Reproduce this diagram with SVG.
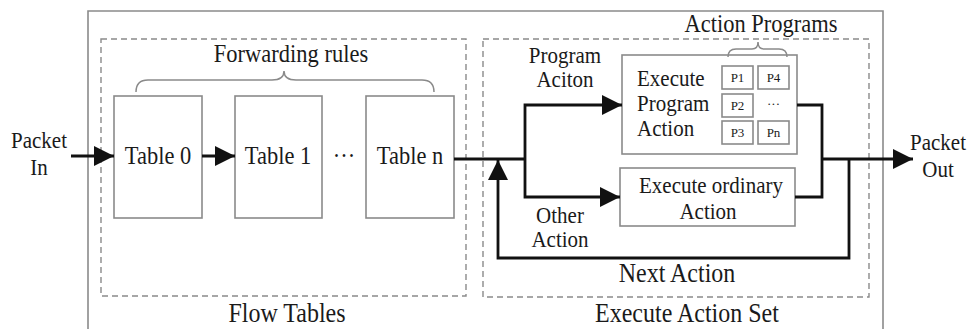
<svg xmlns="http://www.w3.org/2000/svg" width="970" height="329" viewBox="0 0 970 329">
  <style>
    .frame { fill: none; stroke: #8a8a8a; stroke-width: 1.6; }
    .dash { fill: none; stroke: #8a8a8a; stroke-width: 1.4; stroke-dasharray: 6 4; }
    .box { fill: #ffffff; stroke: #8a8a8a; stroke-width: 1.6; }
    .brace { fill: none; stroke: #8a8a8a; stroke-width: 1.5; }
    .wire { fill: none; stroke: #111111; stroke-width: 2.8; }
    text { font-family: 'Liberation Serif', 'DejaVu Serif', serif; fill: #1a1a1a; }
    .lg { font-size: 24px; }
    .md { font-size: 22.5px; }
    .sm { font-size: 21px; }
    .xs { font-size: 13px; }
    .c { text-anchor: middle; }
  </style>
  <defs>
    <marker id="arrow" markerUnits="userSpaceOnUse" markerWidth="22" markerHeight="22" refX="20" refY="10" orient="auto">
      <path d="M0,0 L20,10 L0,20 z" fill="#111111"/>
    </marker>
  </defs>

  <rect width="970" height="329" fill="#ffffff"/>

  <!-- outer switch frame (open at the bottom edge) -->
  <path class="frame" d="M88,335 V11 H883 V335"/>

  <!-- labels use a slightly tall letterform: translate to the baseline, then stretch vertically -->
  <g id="flow-tables">
    <rect class="dash" x="101" y="39" width="365" height="257"/>
    <text class="lg c" transform="translate(287 322) scale(1 1.12)">Flow Tables</text>
    <text class="md c" transform="translate(291 62) scale(1 1.12)">Forwarding rules</text>
    <path class="brace" d="M136,92 Q136,80 148,80 H272 Q284,80 284,71 Q284,80 296,80 H422 Q434,80 434,92"/>
  </g>

  <g id="table-0">
    <rect class="box" x="114" y="96" width="88" height="122"/>
    <text class="md c" transform="translate(158 164) scale(1 1.12)">Table 0</text>
  </g>
  <g id="table-1">
    <rect class="box" x="235" y="96" width="87" height="122"/>
    <text class="md c" transform="translate(278 164) scale(1 1.12)">Table 1</text>
  </g>
  <g id="ellipsis">
    <text class="md c" transform="translate(344 164) scale(1 1.12)">···</text>
  </g>
  <g id="table-n">
    <rect class="box" x="366" y="96" width="88" height="122"/>
    <text class="md c" transform="translate(410 164) scale(1 1.12)">Table n</text>
  </g>

  <g id="action-set">
    <rect class="dash" x="483" y="39" width="386" height="258"/>
    <text class="lg c" transform="translate(687 322) scale(1 1.12)">Execute Action Set</text>
  </g>

  <g id="program-action">
    <rect class="box" x="622" y="55" width="175" height="99"/>
    <text class="sm" transform="translate(637 86) scale(1 1.12)">Execute</text>
    <text class="sm" transform="translate(637 111) scale(1 1.12)">Program</text>
    <text class="sm" transform="translate(637 136) scale(1 1.12)">Action</text>
    <rect class="box" x="722" y="66" width="31" height="23"/>
    <text class="xs c" x="737.5" y="82">P1</text>
    <rect class="box" x="758" y="66" width="31" height="23"/>
    <text class="xs c" x="773.5" y="82">P4</text>
    <rect class="box" x="722" y="94" width="31" height="23"/>
    <text class="xs c" x="737.5" y="110">P2</text>
    <text class="xs c" x="773.5" y="108">···</text>
    <rect class="box" x="722" y="121" width="31" height="23"/>
    <text class="xs c" x="737.5" y="137">P3</text>
    <rect class="box" x="758" y="121" width="31" height="23"/>
    <text class="xs c" x="773.5" y="137">Pn</text>
    <path class="brace" d="M728,57 Q728,49 736,49 H752 Q758,49 758,42 Q758,49 764,49 H779 Q787,49 787,57"/>
    <text class="md c" transform="translate(761 32) scale(1 1.12)">Action Programs</text>
  </g>

  <g id="ordinary-action">
    <rect class="box" x="620" y="168" width="175" height="58"/>
    <text class="sm c" transform="translate(711 193) scale(1 1.05)">Execute ordinary</text>
    <text class="sm c" transform="translate(708 219) scale(1 1.05)">Action</text>
  </g>

  <g id="labels">
    <text class="sm c" transform="translate(39 148) scale(1 1.12)">Packet</text>
    <text class="sm c" transform="translate(39 175) scale(1 1.12)">In</text>
    <text class="sm c" transform="translate(938 150) scale(1 1.12)">Packet</text>
    <text class="sm c" transform="translate(938 177) scale(1 1.12)">Out</text>
    <text class="sm c" transform="translate(565 63) scale(1 1.12)">Program</text>
    <text class="sm c" transform="translate(565 87) scale(1 1.12)">Aciton</text>
    <text class="sm c" transform="translate(560 223) scale(1 1.12)">Other</text>
    <text class="sm c" transform="translate(560 247) scale(1 1.12)">Action</text>
    <text class="lg c" transform="translate(677 282) scale(1 1.12)">Next Action</text>
  </g>

  <g id="connectors">
    <path class="wire" d="M71,156 H114" marker-end="url(#arrow)"/>
    <path class="wire" d="M202,156 H235" marker-end="url(#arrow)"/>
    <path class="wire" d="M454,159 H525"/>
    <path class="wire" d="M525,159 V105 H622" marker-end="url(#arrow)"/>
    <path class="wire" d="M525,159 V197 H620" marker-end="url(#arrow)"/>
    <path class="wire" d="M797,105 H822 V197 H795"/>
    <path class="wire" d="M822,159 H913" marker-end="url(#arrow)"/>
    <path class="wire" d="M849,159 V258 H498 V160" marker-end="url(#arrow)"/>
  </g>
</svg>
